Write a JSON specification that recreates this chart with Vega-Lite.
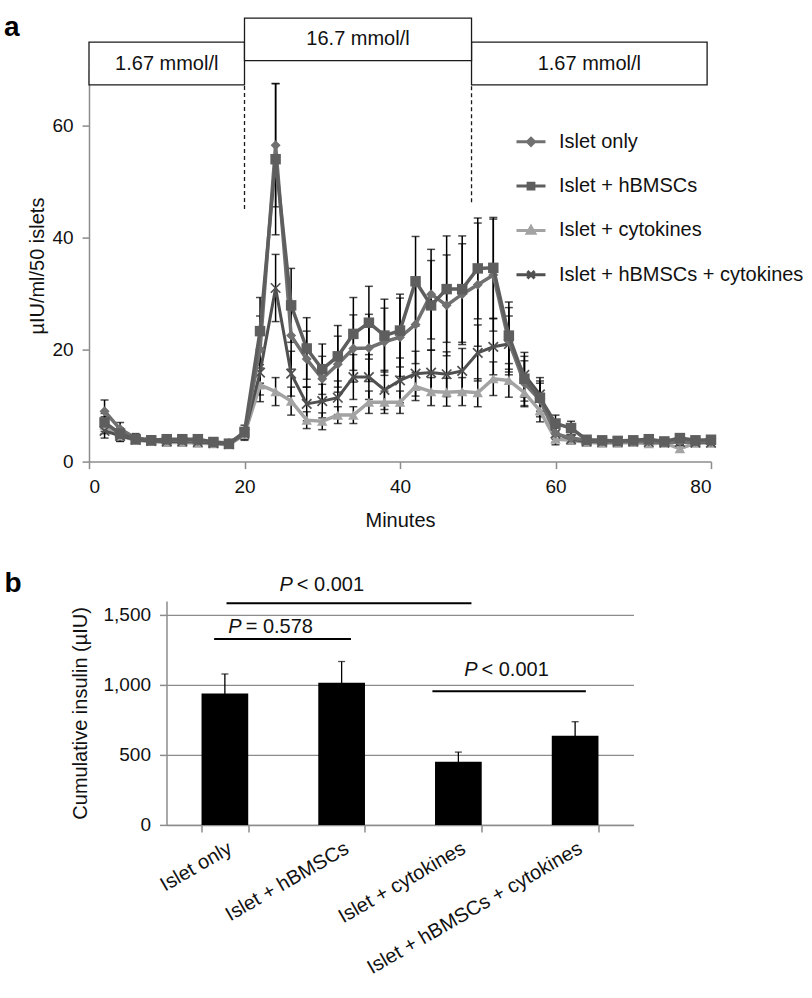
{
"$schema": "https://vega.github.io/schema/vega-lite/v6.json",
"padding": {"left": 4, "top": 12.6, "right": 5, "bottom": 5},
"config": {
  "font": "Liberation Sans",
  "view": {"stroke": null},
  "axis": {"domainColor": "#8c8c8c", "tickColor": "#8c8c8c", "domainWidth": 1.5, "tickWidth": 1.5, "tickSize": 7, "labelFont": "Liberation Sans", "labelFontSize": 19, "labelColor": "#111", "titleFont": "Liberation Sans", "titleFontSize": 20, "titleFontWeight": "normal", "titleColor": "#111", "labelPadding": 9, "grid": false},
  "text": {"font": "Liberation Sans", "color": "#111"}
},
"datasets": {
  "phases": [
    {"phase": 1, "start": 0, "end": 20, "label": "1.67 mmol/l", "glucose": 1.67},
    {"phase": 2, "start": 20, "end": 49.2, "label": "16.7 mmol/l", "glucose": 16.7},
    {"phase": 3, "start": 49.2, "end": 79.5, "label": "1.67 mmol/l", "glucose": 1.67}
  ],
  "insulin": [
    {"series":"Islet only","minute":2,"insulin":9.0,"sd":2.0},
    {"series":"Islet only","minute":4,"insulin":5.8,"sd":1.2},
    {"series":"Islet only","minute":6,"insulin":4.2,"sd":0.8},
    {"series":"Islet only","minute":8,"insulin":3.9,"sd":0.7},
    {"series":"Islet only","minute":10,"insulin":3.9,"sd":0.7},
    {"series":"Islet only","minute":12,"insulin":3.8,"sd":0.6},
    {"series":"Islet only","minute":14,"insulin":3.7,"sd":0.6},
    {"series":"Islet only","minute":16,"insulin":3.5,"sd":0.5},
    {"series":"Islet only","minute":18,"insulin":3.3,"sd":0.5},
    {"series":"Islet only","minute":20,"insulin":5.0,"sd":1.0},
    {"series":"Islet only","minute":22,"insulin":20.0,"sd":6.0},
    {"series":"Islet only","minute":24,"insulin":56.5,"sd":11.0},
    {"series":"Islet only","minute":26,"insulin":22.5,"sd":6.0},
    {"series":"Islet only","minute":28,"insulin":18.3,"sd":5.0},
    {"series":"Islet only","minute":30,"insulin":14.8,"sd":4.0},
    {"series":"Islet only","minute":32,"insulin":17.4,"sd":5.0},
    {"series":"Islet only","minute":34,"insulin":20.2,"sd":6.0},
    {"series":"Islet only","minute":36,"insulin":20.3,"sd":6.0},
    {"series":"Islet only","minute":38,"insulin":21.4,"sd":6.0},
    {"series":"Islet only","minute":40,"insulin":22.2,"sd":7.0},
    {"series":"Islet only","minute":42,"insulin":24.5,"sd":7.0},
    {"series":"Islet only","minute":44,"insulin":29.9,"sd":8.0},
    {"series":"Islet only","minute":46,"insulin":27.9,"sd":9.0},
    {"series":"Islet only","minute":48,"insulin":29.9,"sd":9.0},
    {"series":"Islet only","minute":50,"insulin":31.6,"sd":11.0},
    {"series":"Islet only","minute":52,"insulin":33.3,"sd":10.0},
    {"series":"Islet only","minute":54,"insulin":21.5,"sd":6.0},
    {"series":"Islet only","minute":56,"insulin":14.0,"sd":4.0},
    {"series":"Islet only","minute":58,"insulin":11.0,"sd":3.0},
    {"series":"Islet only","minute":60,"insulin":5.0,"sd":1.5},
    {"series":"Islet only","minute":62,"insulin":4.2,"sd":1.0},
    {"series":"Islet only","minute":64,"insulin":3.8,"sd":0.6},
    {"series":"Islet only","minute":66,"insulin":3.7,"sd":0.6},
    {"series":"Islet only","minute":68,"insulin":3.6,"sd":0.6},
    {"series":"Islet only","minute":70,"insulin":3.7,"sd":0.6},
    {"series":"Islet only","minute":72,"insulin":3.6,"sd":0.6},
    {"series":"Islet only","minute":74,"insulin":3.5,"sd":0.6},
    {"series":"Islet only","minute":76,"insulin":3.5,"sd":0.6},
    {"series":"Islet only","minute":78,"insulin":3.6,"sd":0.6},
    {"series":"Islet only","minute":80,"insulin":3.5,"sd":0.6},
    {"series":"Islet + hBMSCs","minute":2,"insulin":7.0,"sd":1.6},
    {"series":"Islet + hBMSCs","minute":4,"insulin":5.0,"sd":1.0},
    {"series":"Islet + hBMSCs","minute":6,"insulin":4.0,"sd":0.7},
    {"series":"Islet + hBMSCs","minute":8,"insulin":3.8,"sd":0.7},
    {"series":"Islet + hBMSCs","minute":10,"insulin":4.0,"sd":0.7},
    {"series":"Islet + hBMSCs","minute":12,"insulin":4.0,"sd":0.7},
    {"series":"Islet + hBMSCs","minute":14,"insulin":4.0,"sd":0.7},
    {"series":"Islet + hBMSCs","minute":16,"insulin":3.5,"sd":0.6},
    {"series":"Islet + hBMSCs","minute":18,"insulin":3.2,"sd":0.5},
    {"series":"Islet + hBMSCs","minute":20,"insulin":5.3,"sd":1.2},
    {"series":"Islet + hBMSCs","minute":22,"insulin":23.3,"sd":6.0},
    {"series":"Islet + hBMSCs","minute":24,"insulin":54.0,"sd":13.5},
    {"series":"Islet + hBMSCs","minute":26,"insulin":27.9,"sd":6.6},
    {"series":"Islet + hBMSCs","minute":28,"insulin":20.2,"sd":5.5},
    {"series":"Islet + hBMSCs","minute":30,"insulin":16.5,"sd":4.5},
    {"series":"Islet + hBMSCs","minute":32,"insulin":18.8,"sd":5.5},
    {"series":"Islet + hBMSCs","minute":34,"insulin":22.8,"sd":6.5},
    {"series":"Islet + hBMSCs","minute":36,"insulin":24.8,"sd":6.5},
    {"series":"Islet + hBMSCs","minute":38,"insulin":22.5,"sd":6.5},
    {"series":"Islet + hBMSCs","minute":40,"insulin":23.4,"sd":6.5},
    {"series":"Islet + hBMSCs","minute":42,"insulin":32.2,"sd":8.0},
    {"series":"Islet + hBMSCs","minute":44,"insulin":27.9,"sd":8.0},
    {"series":"Islet + hBMSCs","minute":46,"insulin":30.8,"sd":9.5},
    {"series":"Islet + hBMSCs","minute":48,"insulin":30.8,"sd":9.5},
    {"series":"Islet + hBMSCs","minute":50,"insulin":34.5,"sd":9.0},
    {"series":"Islet + hBMSCs","minute":52,"insulin":34.6,"sd":9.0},
    {"series":"Islet + hBMSCs","minute":54,"insulin":22.5,"sd":6.0},
    {"series":"Islet + hBMSCs","minute":56,"insulin":14.8,"sd":4.0},
    {"series":"Islet + hBMSCs","minute":58,"insulin":11.4,"sd":3.0},
    {"series":"Islet + hBMSCs","minute":60,"insulin":6.8,"sd":1.5},
    {"series":"Islet + hBMSCs","minute":62,"insulin":6.0,"sd":1.2},
    {"series":"Islet + hBMSCs","minute":64,"insulin":3.9,"sd":0.6},
    {"series":"Islet + hBMSCs","minute":66,"insulin":3.8,"sd":0.6},
    {"series":"Islet + hBMSCs","minute":68,"insulin":3.7,"sd":0.6},
    {"series":"Islet + hBMSCs","minute":70,"insulin":3.8,"sd":0.6},
    {"series":"Islet + hBMSCs","minute":72,"insulin":4.0,"sd":0.6},
    {"series":"Islet + hBMSCs","minute":74,"insulin":3.6,"sd":0.6},
    {"series":"Islet + hBMSCs","minute":76,"insulin":4.2,"sd":0.6},
    {"series":"Islet + hBMSCs","minute":78,"insulin":3.8,"sd":0.6},
    {"series":"Islet + hBMSCs","minute":80,"insulin":3.9,"sd":0.6},
    {"series":"Islet + cytokines","minute":2,"insulin":6.5,"sd":1.5},
    {"series":"Islet + cytokines","minute":4,"insulin":4.6,"sd":1.0},
    {"series":"Islet + cytokines","minute":6,"insulin":3.8,"sd":0.6},
    {"series":"Islet + cytokines","minute":8,"insulin":3.6,"sd":0.6},
    {"series":"Islet + cytokines","minute":10,"insulin":3.4,"sd":0.5},
    {"series":"Islet + cytokines","minute":12,"insulin":3.4,"sd":0.5},
    {"series":"Islet + cytokines","minute":14,"insulin":3.3,"sd":0.5},
    {"series":"Islet + cytokines","minute":16,"insulin":3.2,"sd":0.5},
    {"series":"Islet + cytokines","minute":18,"insulin":3.0,"sd":0.5},
    {"series":"Islet + cytokines","minute":20,"insulin":4.8,"sd":1.0},
    {"series":"Islet + cytokines","minute":22,"insulin":13.7,"sd":3.0},
    {"series":"Islet + cytokines","minute":24,"insulin":12.5,"sd":2.5},
    {"series":"Islet + cytokines","minute":26,"insulin":10.8,"sd":2.5},
    {"series":"Islet + cytokines","minute":28,"insulin":7.4,"sd":1.5},
    {"series":"Islet + cytokines","minute":30,"insulin":7.2,"sd":1.5},
    {"series":"Islet + cytokines","minute":32,"insulin":8.3,"sd":1.5},
    {"series":"Islet + cytokines","minute":34,"insulin":8.3,"sd":1.5},
    {"series":"Islet + cytokines","minute":36,"insulin":10.6,"sd":2.0},
    {"series":"Islet + cytokines","minute":38,"insulin":10.6,"sd":2.0},
    {"series":"Islet + cytokines","minute":40,"insulin":10.6,"sd":2.0},
    {"series":"Islet + cytokines","minute":42,"insulin":13.4,"sd":2.5},
    {"series":"Islet + cytokines","minute":44,"insulin":12.5,"sd":2.5},
    {"series":"Islet + cytokines","minute":46,"insulin":12.4,"sd":2.5},
    {"series":"Islet + cytokines","minute":48,"insulin":12.5,"sd":2.5},
    {"series":"Islet + cytokines","minute":50,"insulin":12.3,"sd":2.5},
    {"series":"Islet + cytokines","minute":52,"insulin":14.8,"sd":3.0},
    {"series":"Islet + cytokines","minute":54,"insulin":14.5,"sd":3.0},
    {"series":"Islet + cytokines","minute":56,"insulin":12.3,"sd":2.5},
    {"series":"Islet + cytokines","minute":58,"insulin":9.1,"sd":2.0},
    {"series":"Islet + cytokines","minute":60,"insulin":4.0,"sd":1.0},
    {"series":"Islet + cytokines","minute":62,"insulin":3.8,"sd":0.6},
    {"series":"Islet + cytokines","minute":64,"insulin":3.4,"sd":0.5},
    {"series":"Islet + cytokines","minute":66,"insulin":3.3,"sd":0.5},
    {"series":"Islet + cytokines","minute":68,"insulin":3.3,"sd":0.5},
    {"series":"Islet + cytokines","minute":70,"insulin":3.4,"sd":0.5},
    {"series":"Islet + cytokines","minute":72,"insulin":3.2,"sd":0.5},
    {"series":"Islet + cytokines","minute":74,"insulin":3.3,"sd":0.5},
    {"series":"Islet + cytokines","minute":76,"insulin":2.3,"sd":0.5},
    {"series":"Islet + cytokines","minute":78,"insulin":3.3,"sd":0.5},
    {"series":"Islet + cytokines","minute":80,"insulin":3.3,"sd":0.5},
    {"series":"Islet + hBMSCs + cytokines","minute":2,"insulin":5.5,"sd":1.3},
    {"series":"Islet + hBMSCs + cytokines","minute":4,"insulin":4.6,"sd":0.9},
    {"series":"Islet + hBMSCs + cytokines","minute":6,"insulin":3.9,"sd":0.6},
    {"series":"Islet + hBMSCs + cytokines","minute":8,"insulin":3.7,"sd":0.6},
    {"series":"Islet + hBMSCs + cytokines","minute":10,"insulin":3.6,"sd":0.6},
    {"series":"Islet + hBMSCs + cytokines","minute":12,"insulin":3.6,"sd":0.6},
    {"series":"Islet + hBMSCs + cytokines","minute":14,"insulin":3.5,"sd":0.6},
    {"series":"Islet + hBMSCs + cytokines","minute":16,"insulin":3.3,"sd":0.5},
    {"series":"Islet + hBMSCs + cytokines","minute":18,"insulin":3.1,"sd":0.5},
    {"series":"Islet + hBMSCs + cytokines","minute":20,"insulin":5.0,"sd":1.0},
    {"series":"Islet + hBMSCs + cytokines","minute":22,"insulin":15.9,"sd":4.0},
    {"series":"Islet + hBMSCs + cytokines","minute":24,"insulin":31.0,"sd":6.0},
    {"series":"Islet + hBMSCs + cytokines","minute":26,"insulin":15.7,"sd":4.0},
    {"series":"Islet + hBMSCs + cytokines","minute":28,"insulin":10.3,"sd":3.0},
    {"series":"Islet + hBMSCs + cytokines","minute":30,"insulin":10.8,"sd":3.0},
    {"series":"Islet + hBMSCs + cytokines","minute":32,"insulin":11.4,"sd":3.0},
    {"series":"Islet + hBMSCs + cytokines","minute":34,"insulin":15.1,"sd":4.0},
    {"series":"Islet + hBMSCs + cytokines","minute":36,"insulin":15.1,"sd":4.0},
    {"series":"Islet + hBMSCs + cytokines","minute":38,"insulin":12.8,"sd":3.5},
    {"series":"Islet + hBMSCs + cytokines","minute":40,"insulin":14.5,"sd":4.0},
    {"series":"Islet + hBMSCs + cytokines","minute":42,"insulin":15.7,"sd":4.0},
    {"series":"Islet + hBMSCs + cytokines","minute":44,"insulin":15.9,"sd":4.0},
    {"series":"Islet + hBMSCs + cytokines","minute":46,"insulin":15.6,"sd":4.0},
    {"series":"Islet + hBMSCs + cytokines","minute":48,"insulin":16.2,"sd":4.0},
    {"series":"Islet + hBMSCs + cytokines","minute":50,"insulin":19.4,"sd":5.0},
    {"series":"Islet + hBMSCs + cytokines","minute":52,"insulin":20.5,"sd":5.0},
    {"series":"Islet + hBMSCs + cytokines","minute":54,"insulin":21.0,"sd":5.0},
    {"series":"Islet + hBMSCs + cytokines","minute":56,"insulin":15.5,"sd":4.0},
    {"series":"Islet + hBMSCs + cytokines","minute":58,"insulin":12.0,"sd":3.0},
    {"series":"Islet + hBMSCs + cytokines","minute":60,"insulin":5.0,"sd":1.0},
    {"series":"Islet + hBMSCs + cytokines","minute":62,"insulin":4.0,"sd":0.6},
    {"series":"Islet + hBMSCs + cytokines","minute":64,"insulin":3.6,"sd":0.5},
    {"series":"Islet + hBMSCs + cytokines","minute":66,"insulin":3.5,"sd":0.5},
    {"series":"Islet + hBMSCs + cytokines","minute":68,"insulin":3.5,"sd":0.5},
    {"series":"Islet + hBMSCs + cytokines","minute":70,"insulin":3.6,"sd":0.5},
    {"series":"Islet + hBMSCs + cytokines","minute":72,"insulin":3.5,"sd":0.5},
    {"series":"Islet + hBMSCs + cytokines","minute":74,"insulin":3.4,"sd":0.5},
    {"series":"Islet + hBMSCs + cytokines","minute":76,"insulin":3.5,"sd":0.5},
    {"series":"Islet + hBMSCs + cytokines","minute":78,"insulin":3.4,"sd":0.5},
    {"series":"Islet + hBMSCs + cytokines","minute":80,"insulin":3.4,"sd":0.5}
  ],
  "totals": [
    {"group": "Islet only", "cumulative": 938, "sd": 140},
    {"group": "Islet + hBMSCs", "cumulative": 1015, "sd": 152},
    {"group": "Islet + cytokines", "cumulative": 451, "sd": 69},
    {"group": "Islet + hBMSCs + cytokines", "cumulative": 636, "sd": 101}
  ],
  "tests": [
    {"pair": 1, "from": "Islet only", "to": "Islet + cytokines", "stat": "P", "result": "< 0.001"},
    {"pair": 2, "from": "Islet only", "to": "Islet + hBMSCs", "stat": "P", "result": "= 0.578"},
    {"pair": 3, "from": "Islet + cytokines", "to": "Islet + hBMSCs + cytokines", "stat": "P", "result": "< 0.001"}
  ]
},
"vconcat": [
  {
    "width": 622,
    "height": 392,
    "title": {"text": "a", "anchor": "start", "frame": "group", "fontSize": 28, "fontWeight": "bold", "font": "Liberation Sans", "color": "#000", "offset": 0, "dx": -85, "dy": 24},
    "layer": [
      {
        "data": {"name": "phases"},
        "transform": [{"filter": "datum.glucose == 1.67"}],
        "mark": {"type": "rect", "fill": "#fff", "stroke": "#1a1a1a", "strokeWidth": 1.3},
        "encoding": {
          "x": {"field": "start", "type": "quantitative", "title": "Minutes", "scale": {"domain": [0, 80]}, "axis": {"values": [0, 20, 40, 60, 80], "title": "Minutes", "titlePadding": 14}},
          "x2": {"field": "end"},
          "y": {"datum": 67.26, "type": "quantitative", "title": "µIU/ml/50 islets", "scale": {"domain": [0, 67.3]}, "axis": {"values": [0, 20, 40, 60], "title": "µIU/ml/50 islets", "titlePadding": 4}},
          "y2": {"datum": 74.89}
        }
      },
      {
        "data": {"name": "phases"},
        "transform": [{"filter": "datum.glucose == 16.7"}],
        "mark": {"type": "rect", "fill": "#fff", "stroke": "#1a1a1a", "strokeWidth": 1.3},
        "encoding": {
          "x": {"field": "start", "type": "quantitative", "title": "Minutes"},
          "x2": {"field": "end"},
          "y": {"datum": 71.62, "type": "quantitative", "title": "µIU/ml/50 islets"},
          "y2": {"datum": 79.18}
        }
      },
      {
        "data": {"name": "phases"},
        "transform": [
          {"filter": "datum.glucose == 1.67"},
          {"fold": ["start", "end"], "as": ["edge", "bound"]},
          {"aggregate": [{"op": "mean", "field": "bound", "as": "mid"}], "groupby": ["phase", "label"]}
        ],
        "mark": {"type": "text", "fontSize": 20, "baseline": "middle", "align": "center"},
        "encoding": {
          "x": {"field": "mid", "type": "quantitative", "title": "Minutes"},
          "y": {"datum": 71.07, "type": "quantitative", "title": "µIU/ml/50 islets"},
          "text": {"field": "label"}
        }
      },
      {
        "data": {"name": "phases"},
        "transform": [
          {"filter": "datum.glucose == 16.7"},
          {"fold": ["start", "end"], "as": ["edge", "bound"]},
          {"aggregate": [{"op": "mean", "field": "bound", "as": "mid"}], "groupby": ["phase", "label"]}
        ],
        "mark": {"type": "text", "fontSize": 20, "baseline": "middle", "align": "center"},
        "encoding": {
          "x": {"field": "mid", "type": "quantitative", "title": "Minutes"},
          "y": {"datum": 75.4, "type": "quantitative", "title": "µIU/ml/50 islets"},
          "text": {"field": "label"}
        }
      },
      {
        "data": {"name": "phases"},
        "transform": [{"filter": "datum.glucose == 16.7"}],
        "mark": {"type": "rule", "color": "#1a1a1a", "strokeWidth": 1.3, "strokeDash": [4, 3]},
        "encoding": {
          "x": {"field": "start", "type": "quantitative", "title": "Minutes"},
          "y": {"datum": 45.1, "type": "quantitative", "title": "µIU/ml/50 islets"},
          "y2": {"datum": 67.26}
        }
      },
      {
        "data": {"name": "phases"},
        "transform": [{"filter": "datum.glucose == 16.7"}],
        "mark": {"type": "rule", "color": "#1a1a1a", "strokeWidth": 1.3, "strokeDash": [4, 3]},
        "encoding": {
          "x": {"field": "end", "type": "quantitative", "title": "Minutes"},
          "y": {"datum": 46.3, "type": "quantitative", "title": "µIU/ml/50 islets"},
          "y2": {"datum": 67.26}
        }
      },
      {
        "data": {"name": "insulin"},
        "mark": {"type": "errorbar", "color": "#000", "thickness": 1.5, "ticks": {"size": 8, "color": "#000", "thickness": 1.5}},
        "encoding": {
          "x": {"field": "minute", "type": "quantitative", "title": "Minutes"},
          "y": {"field": "insulin", "type": "quantitative", "title": "µIU/ml/50 islets"},
          "yError": {"field": "sd"}
        }
      },
      {
        "data": {"name": "insulin"},
        "transform": [{"filter": "datum.series == 'Islet + cytokines'"}],
        "mark": {"type": "line", "strokeWidth": 3.5, "color": "#a3a3a3", "point": {"shape": "triangle-up", "filled": true, "size": 110, "color": "#a3a3a3"}},
        "encoding": {"x": {"field": "minute", "type": "quantitative", "title": "Minutes"}, "y": {"field": "insulin", "type": "quantitative", "title": "µIU/ml/50 islets"}}
      },
      {
        "data": {"name": "insulin"},
        "transform": [{"filter": "datum.series == 'Islet + hBMSCs + cytokines'"}],
        "mark": {"type": "line", "strokeWidth": 3, "color": "#505050", "point": {"shape": "M-1,-1L1,1M-1,1L1,-1", "filled": false, "size": 90, "stroke": "#505050", "strokeWidth": 1.7}},
        "encoding": {"x": {"field": "minute", "type": "quantitative", "title": "Minutes"}, "y": {"field": "insulin", "type": "quantitative", "title": "µIU/ml/50 islets"}}
      },
      {
        "data": {"name": "insulin"},
        "transform": [{"filter": "datum.series == 'Islet only'"}],
        "mark": {"type": "line", "strokeWidth": 3.5, "color": "#707070", "point": {"shape": "diamond", "filled": true, "size": 100, "color": "#707070"}},
        "encoding": {"x": {"field": "minute", "type": "quantitative", "title": "Minutes"}, "y": {"field": "insulin", "type": "quantitative", "title": "µIU/ml/50 islets"}}
      },
      {
        "data": {"name": "insulin"},
        "transform": [{"filter": "datum.series == 'Islet + hBMSCs'"}],
        "mark": {"type": "line", "strokeWidth": 3.5, "color": "#5e5e5e", "point": {"shape": "square", "filled": true, "size": 110, "color": "#5e5e5e"}},
        "encoding": {"x": {"field": "minute", "type": "quantitative", "title": "Minutes"}, "y": {"field": "insulin", "type": "quantitative", "title": "µIU/ml/50 islets"}}
      },
      {
        "data": {"name": "insulin"},
        "transform": [{"filter": "datum.minute < 0"}],
        "mark": {"type": "point", "filled": true},
        "encoding": {
          "x": {"field": "minute", "type": "quantitative", "title": "Minutes"},
          "y": {"field": "insulin", "type": "quantitative", "title": "µIU/ml/50 islets"},
          "shape": {"field": "series", "type": "nominal", "scale": {"domain": ["Islet only", "Islet + hBMSCs", "Islet + cytokines", "Islet + hBMSCs + cytokines"], "range": ["M-1,0L1,0M0,-0.24L0.24,0L0,0.24L-0.24,0Z", "M-1,0L1,0M-0.2,-0.2L0.2,-0.2L0.2,0.2L-0.2,0.2Z", "M-1,0L1,0M0,-0.26L0.26,0.2L-0.26,0.2Z", "M-1,0L1,0M-0.25,-0.25L0.25,0.25M-0.25,0.25L0.25,-0.25"]},
            "legend": {"title": null, "orient": "none", "legendX": 426, "legendY": 56.2, "symbolSize": 841, "symbolStrokeWidth": 3, "symbolOpacity": 1, "labelFontSize": 20, "labelFont": "Liberation Sans", "labelColor": "#111", "labelOffset": 12, "rowPadding": 18.3, "padding": 0, "labelLimit": 400}},
          "fill": {"field": "series", "type": "nominal", "scale": {"domain": ["Islet only", "Islet + hBMSCs", "Islet + cytokines", "Islet + hBMSCs + cytokines"], "range": ["#707070", "#5e5e5e", "#a3a3a3", "#505050"]},
            "legend": {"title": null, "orient": "none", "legendX": 426, "legendY": 56.2, "symbolSize": 841, "symbolStrokeWidth": 3, "symbolOpacity": 1, "labelFontSize": 20, "labelFont": "Liberation Sans", "labelColor": "#111", "labelOffset": 12, "rowPadding": 18.3, "padding": 0, "labelLimit": 400}},
          "stroke": {"field": "series", "type": "nominal", "scale": {"domain": ["Islet only", "Islet + hBMSCs", "Islet + cytokines", "Islet + hBMSCs + cytokines"], "range": ["#707070", "#5e5e5e", "#a3a3a3", "#505050"]},
            "legend": {"title": null, "orient": "none", "legendX": 426, "legendY": 56.2, "symbolSize": 841, "symbolStrokeWidth": 3, "symbolOpacity": 1, "labelFontSize": 20, "labelFont": "Liberation Sans", "labelColor": "#111", "labelOffset": 12, "rowPadding": 18.3, "padding": 0, "labelLimit": 400}}
        }
      }
    ]
  },
  {
    "width": 467,
    "height": 224,
    "title": {"text": "b", "anchor": "start", "frame": "group", "fontSize": 28, "fontWeight": "bold", "font": "Liberation Sans", "color": "#000", "offset": 0, "dx": -162, "dy": 23},
    "layer": [
      {
        "data": {"name": "totals"},
        "mark": {"type": "bar", "color": "#000"},
        "encoding": {
          "x": {"field": "group", "type": "nominal", "sort": null, "title": null, "scale": {"domain": ["Islet only", "Islet + hBMSCs", "Islet + cytokines", "Islet + hBMSCs + cytokines"], "paddingInner": 0.6, "paddingOuter": 0.3}, "axis": {"title": null, "labelAngle": -30, "tickBand": "extent", "labelFontSize": 20, "labelPadding": 6, "labelLimit": 400}},
          "y": {"field": "cumulative", "type": "quantitative", "title": "Cumulative insulin (µIU)", "scale": {"domain": [0, 1500]}, "axis": {"values": [0, 500, 1000, 1500], "format": ",.0f", "grid": true, "gridColor": "#8c8c8c", "gridWidth": 1.3, "title": "Cumulative insulin (µIU)", "titlePadding": 12}}
        }
      },
      {
        "data": {"name": "totals"},
        "mark": {"type": "errorbar", "color": "#000", "thickness": 1.3, "ticks": {"size": 7, "color": "#000", "thickness": 1.3}},
        "encoding": {
          "x": {"field": "group", "type": "nominal", "title": null},
          "y": {"field": "cumulative", "type": "quantitative", "title": "Cumulative insulin (µIU)", "axis": {"values": [0, 500, 1000, 1500], "format": ",.0f", "grid": true, "gridColor": "#8c8c8c", "gridWidth": 1.3, "title": "Cumulative insulin (µIU)", "titlePadding": 12}},
          "yError": {"field": "sd"}
        }
      },
      {
        "data": {"name": "tests"},
        "transform": [{"filter": "datum.pair == 1"}],
        "mark": {"type": "rule", "color": "#000", "strokeWidth": 2},
        "encoding": {
          "x": {"field": "from", "type": "nominal", "title": null, "bandPosition": 0.535},
          "x2": {"field": "to", "bandPosition": 0.78},
          "y": {"datum": 1584, "type": "quantitative"}
        }
      },
      {
        "data": {"name": "tests"},
        "transform": [{"filter": "datum.pair == 2"}],
        "mark": {"type": "rule", "color": "#000", "strokeWidth": 2},
        "encoding": {
          "x": {"field": "from", "type": "nominal", "title": null, "bandPosition": 0.27},
          "x2": {"field": "to", "bandPosition": 0.7},
          "y": {"datum": 1328, "type": "quantitative"}
        }
      },
      {
        "data": {"name": "tests"},
        "transform": [{"filter": "datum.pair == 3"}],
        "mark": {"type": "rule", "color": "#000", "strokeWidth": 2},
        "encoding": {
          "x": {"field": "from", "type": "nominal", "title": null, "bandPosition": -0.056},
          "x2": {"field": "to", "bandPosition": 0.73},
          "y": {"datum": 955, "type": "quantitative"}
        }
      },
      {
        "data": {"name": "tests"},
        "transform": [{"filter": "datum.pair == 1"}],
        "mark": {"type": "text", "fontSize": 20, "fontStyle": "italic", "align": "right", "baseline": "middle"},
        "encoding": {"x": {"field": "from", "type": "nominal", "title": null, "bandPosition": 1.955}, "y": {"datum": 1710, "type": "quantitative"}, "text": {"field": "stat"}}
      },
      {
        "data": {"name": "tests"},
        "transform": [{"filter": "datum.pair == 1"}],
        "mark": {"type": "text", "fontSize": 20, "align": "left", "baseline": "middle", "dx": 4},
        "encoding": {"x": {"field": "from", "type": "nominal", "title": null, "bandPosition": 1.955}, "y": {"datum": 1710, "type": "quantitative"}, "text": {"field": "result"}}
      },
      {
        "data": {"name": "tests"},
        "transform": [{"filter": "datum.pair == 2"}],
        "mark": {"type": "text", "fontSize": 20, "fontStyle": "italic", "align": "right", "baseline": "middle"},
        "encoding": {"x": {"field": "from", "type": "nominal", "title": null, "bandPosition": 0.86}, "y": {"datum": 1417, "type": "quantitative"}, "text": {"field": "stat"}}
      },
      {
        "data": {"name": "tests"},
        "transform": [{"filter": "datum.pair == 2"}],
        "mark": {"type": "text", "fontSize": 20, "align": "left", "baseline": "middle", "dx": 4},
        "encoding": {"x": {"field": "from", "type": "nominal", "title": null, "bandPosition": 0.86}, "y": {"datum": 1417, "type": "quantitative"}, "text": {"field": "result"}}
      },
      {
        "data": {"name": "tests"},
        "transform": [{"filter": "datum.pair == 3"}],
        "mark": {"type": "text", "fontSize": 20, "fontStyle": "italic", "align": "right", "baseline": "middle"},
        "encoding": {"x": {"field": "from", "type": "nominal", "title": null, "bandPosition": 0.91}, "y": {"datum": 1105, "type": "quantitative"}, "text": {"field": "stat"}}
      },
      {
        "data": {"name": "tests"},
        "transform": [{"filter": "datum.pair == 3"}],
        "mark": {"type": "text", "fontSize": 20, "align": "left", "baseline": "middle", "dx": 4},
        "encoding": {"x": {"field": "from", "type": "nominal", "title": null, "bandPosition": 0.91}, "y": {"datum": 1105, "type": "quantitative"}, "text": {"field": "result"}}
      }
    ]
  }
],
"spacing": 139.3,
"bounds": "flush",
"center": true
}
